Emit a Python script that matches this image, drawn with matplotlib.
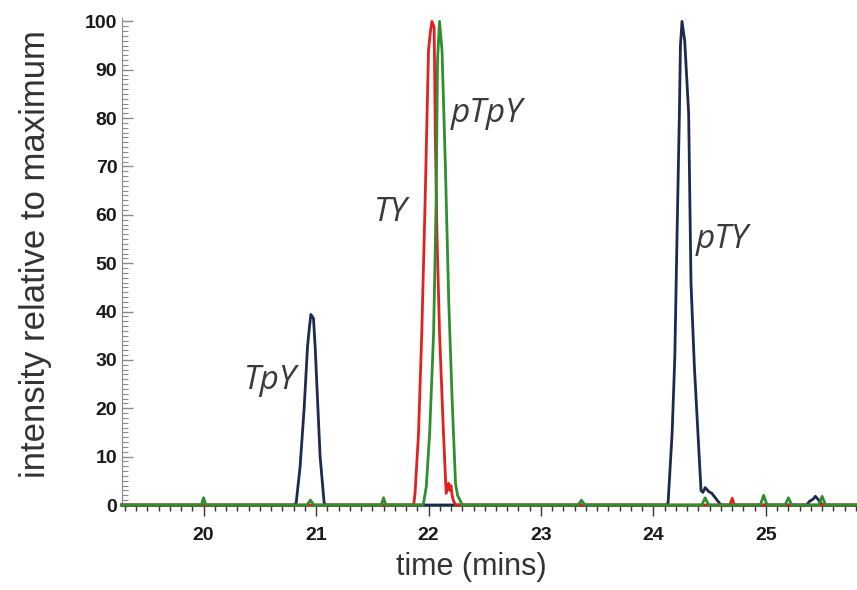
import matplotlib.pyplot as plt
from matplotlib.ticker import MultipleLocator

# chromatogram traces: retention time (min) and intensity (% of max)
tpy_pty_time = [19.27, 20.80, 20.823, 20.858, 20.894, 20.924, 20.941, 20.954, 20.977,
                20.992, 21.016, 21.036, 21.072, 21.09, 24.11, 24.13, 24.166, 24.19,
                24.21, 24.231, 24.24, 24.254, 24.278, 24.313, 24.334, 24.364, 24.393,
                24.423, 24.44, 24.46, 24.49, 24.52, 24.566, 24.60, 25.36, 25.39,
                25.42, 25.44, 25.47, 25.50, 25.81]
tpy_pty_int = [0, 0, 0.4, 7.9, 20.0, 32.7, 36.8, 39.4, 38.6, 32.7, 20.3, 10.0, 0.4, 0,
               0, 0.4, 14.8, 30.6, 56.0, 81.3, 95.0, 100, 96.0, 81.0, 45.8, 28.6,
               16.0, 3.0, 2.6, 3.6, 2.8, 2.4, 1.0, 0, 0, 0.8, 1.2, 1.8, 1.0, 0, 0]

ty_time = [19.27, 21.86, 21.87, 21.88, 21.911, 21.94, 21.97, 22.0, 22.015, 22.03,
           22.05, 22.06, 22.075, 22.098, 22.133, 22.157, 22.178, 22.19, 22.20,
           22.21, 22.22, 22.24, 24.68, 24.70, 24.72, 25.81]
ty_int = [0, 0, 0.4, 2.4, 14.8, 35.5, 63.0, 94.0, 97.5, 100, 98.8, 76.8, 56.0, 35.5,
          14.8, 2.4, 4.5, 3.0, 4.0, 2.0, 1.0, 0, 0, 1.4, 0, 0]

ptpy_time = [19.27, 19.98, 20.00, 20.02, 20.92, 20.95, 20.98, 21.58, 21.60, 21.62,
             21.95, 21.956, 21.98, 22.01, 22.045, 22.068, 22.08, 22.098, 22.12,
             22.15, 22.18, 22.21, 22.24, 22.258, 22.28, 22.30, 23.33, 23.36, 23.39,
             24.43, 24.46, 24.49, 24.95, 24.98, 25.01, 25.17, 25.20, 25.23, 25.47,
             25.50, 25.53, 25.81]
ptpy_int = [0, 0, 1.5, 0, 0, 1.0, 0, 0, 1.5, 0, 0, 0.4, 3.8, 14.8, 35.5, 63.0, 92.0,
            100, 94.0, 70.0, 42.0, 21.7, 4.5, 2.0, 1.0, 0, 0, 1.0, 0, 0, 1.5, 0, 0,
            2.0, 0, 0, 1.5, 0, 0, 1.8, 0, 0]

labels = ['TpY', 'TY', 'pTpY', 'pTY']
label_pos = [(20.59, 25.8), (21.66, 60.5), (22.52, 81.0), (24.61, 54.8)]

navy = '#1b2a4e'
red = '#e3211c'
green = '#2f8f2f'

fig = plt.figure(figsize=(8.57, 5.90), dpi=100)
ax = fig.add_axes([121.5 / 857, 1 - 505 / 590, 1 - 121.5 / 857, (505 - 18) / 590])

ax.plot(tpy_pty_time, tpy_pty_int, color=navy, lw=2, clip_on=False, zorder=3)
ax.plot(ty_time, ty_int, color=red, lw=2, clip_on=False, zorder=4)
ax.plot(ptpy_time, ptpy_int, color=green, lw=2, clip_on=False, zorder=5)

for txt, (x, y) in zip(labels, label_pos):
    ax.text(x, y, txt, fontsize=24, style='italic', color='#3a3a3a',
            family='Open Sans', ha='center', va='center', zorder=6)

ax.set_xlim(19.27, 25.81)
ax.set_ylim(0, 100.7)

for side in ['top', 'right']:
    ax.spines[side].set_visible(False)
ax.spines['left'].set_color('#8a8a8a')
ax.spines['bottom'].set_color(green)
ax.spines['bottom'].set_linewidth(2)

ax.xaxis.set_major_locator(MultipleLocator(1))
ax.xaxis.set_minor_locator(MultipleLocator(0.1))
ax.yaxis.set_major_locator(MultipleLocator(10))
ax.yaxis.set_minor_locator(MultipleLocator(1))

ax.tick_params(axis='x', which='major', direction='out', length=8, width=1,
               color='#333333', pad=8)
ax.tick_params(axis='x', which='minor', direction='out', length=4, width=1,
               color='#333333')
ax.tick_params(axis='y', which='major', direction='in', length=8, width=1,
               color='#8a8a8a', pad=3)
ax.tick_params(axis='y', which='minor', direction='in', length=4, width=0.8,
               color='#8a8a8a')

for lab in ax.get_xticklabels() + ax.get_yticklabels():
    lab.set_fontweight('bold')
    lab.set_fontsize(14)
    lab.set_family('Liberation Sans')
    lab.set_color('#1a1a1a')

ax.set_xlabel('time (mins)', fontsize=22, family='Liberation Sans', color='#333333')
ax.set_ylabel('intensity relative to maximum', fontsize=25, family='Liberation Sans',
              color='#333333')
ax.xaxis.set_label_coords(0.475, -0.097)
ax.yaxis.set_label_coords(-0.095, 0.515)

fig.savefig('out.png', dpi=100)
